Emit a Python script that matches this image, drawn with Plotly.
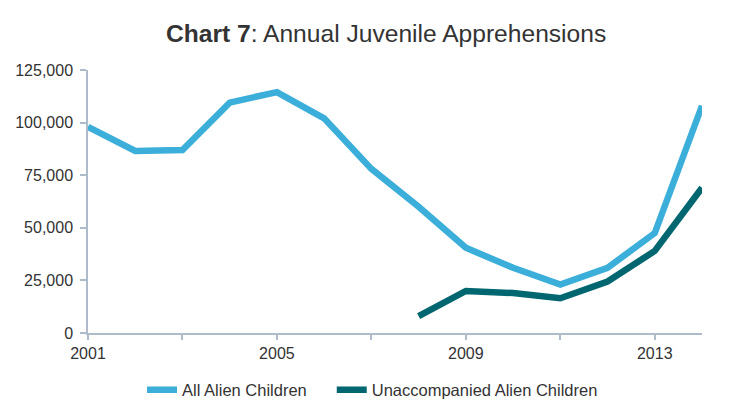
import plotly.graph_objects as go

years = list(range(2001, 2015))
all_alien = [98000, 86500, 87000, 109500, 114500, 102000, 78000, 60000, 40500, 31000, 23000, 31000, 47500, 108000]
unacc_years = list(range(2008, 2015))
unaccompanied = [8000, 20000, 19000, 16500, 24500, 39000, 69000]

fig = go.Figure()
fig.add_trace(go.Scatter(x=years, y=all_alien, mode="lines", name="All Alien Children",
                         line=dict(color="#3BAEDA", width=6.5), legend="legend"))
fig.add_trace(go.Scatter(x=unacc_years, y=unaccompanied, mode="lines", name="Unaccompanied Alien Children",
                         line=dict(color="#006670", width=6.5), legend="legend2"))

axis_col = "#AEBBCB"
leg_font = dict(size=16.5, color="#333333")
fig.update_layout(
    width=723, height=411,
    margin=dict(l=80, r=29, t=62, b=86),
    paper_bgcolor="white", plot_bgcolor="white",
    font=dict(family="Liberation Sans, Arial, sans-serif", color="#333333", size=16),
    title=dict(text="<b>Chart 7</b>: Annual Juvenile Apprehensions", x=0.523, xanchor="center",
               y=0.939, yanchor="middle", font=dict(size=24.6, color="#333333")),
    showlegend=True,
    legend=dict(orientation="h", x=0.088, xanchor="left", y=-0.217, yanchor="middle", font=leg_font),
    legend2=dict(orientation="h", x=0.397, xanchor="left", y=-0.217, yanchor="middle", font=leg_font),
    xaxis=dict(range=[2001, 2014], tickvals=[2001, 2003, 2005, 2007, 2009, 2011, 2013],
               ticktext=["2001", "", "2005", "", "2009", "", "2013"], automargin=False,
               showgrid=False, zeroline=False, showline=True, linecolor=axis_col, linewidth=1.5,
               ticks="outside", tickcolor=axis_col, ticklen=5, tickwidth=1.5,
               tickfont=dict(size=16, color="#333333")),
    yaxis=dict(range=[0, 125000], tickvals=[0, 25000, 50000, 75000, 100000, 125000],
               tickformat=",d", showgrid=False, zeroline=False, showline=True, linecolor=axis_col,
               linewidth=1.5, ticks="outside", tickcolor=axis_col, ticklen=6, tickwidth=1.5,
               automargin=False, ticklabelstandoff=4, tickfont=dict(size=16, color="#333333")),
)
fig.write_html("out.html")
